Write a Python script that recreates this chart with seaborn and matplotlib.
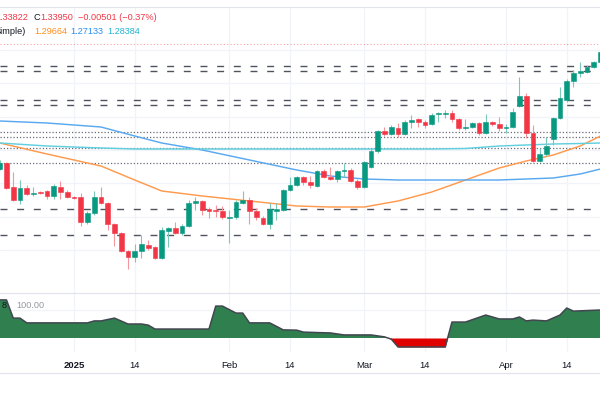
import numpy as np
import pandas as pd
import seaborn as sns
import matplotlib.pyplot as plt

sns.set_theme(style="white")
plt.rcParams['font.family'] = ['Liberation Sans', 'DejaVu Sans']

# daily bars, 17 Dec 2024 .. 21 Apr 2025
dates = pd.bdate_range("2024-12-17", "2025-04-21")

opens = [1.2686, 1.2722, 1.2578, 1.2500, 1.2572, 1.2536, 1.2548, 1.2554, 1.2524, 1.2578,
         1.2548, 1.2518, 1.2518, 1.2368, 1.2422, 1.2518, 1.2482, 1.2356, 1.2302, 1.2194,
         1.2158, 1.2194, 1.2230, 1.2218, 1.2152, 1.2314, 1.2332, 1.2302, 1.2344, 1.2482,
         1.2494, 1.2446, 1.2440, 1.2434, 1.2392, 1.2398, 1.2482, 1.2500, 1.2434, 1.2392,
         1.2356, 1.2434, 1.2440, 1.2560, 1.2590, 1.2638, 1.2608, 1.2584, 1.2674, 1.2638,
         1.2626, 1.2674, 1.2680, 1.2614, 1.2578, 1.2698, 1.2794, 1.2914, 1.2896, 1.2932,
         1.2896, 1.2968, 1.2986, 1.2968, 1.2956, 1.3016, 1.3016, 1.3022, 1.2986, 1.2932,
         1.2938, 1.2962, 1.2902, 1.2968, 1.2956, 1.2932, 1.2938, 1.3064, 1.3124, 1.2902,
         1.2734, 1.2776, 1.2866, 1.2992, 1.3100, 1.3214, 1.3262, 1.3268, 1.3298, 1.3328]
highs = [1.2740, 1.2728, 1.2668, 1.2620, 1.2590, 1.2578, 1.2554, 1.2560, 1.2596, 1.2614,
         1.2560, 1.2524, 1.2542, 1.2434, 1.2554, 1.2578, 1.2488, 1.2362, 1.2308, 1.2200,
         1.2236, 1.2290, 1.2260, 1.2224, 1.2338, 1.2338, 1.2368, 1.2356, 1.2500, 1.2518,
         1.2500, 1.2458, 1.2470, 1.2464, 1.2440, 1.2500, 1.2554, 1.2518, 1.2452, 1.2404,
         1.2482, 1.2482, 1.2566, 1.2638, 1.2644, 1.2644, 1.2644, 1.2680, 1.2686, 1.2698,
         1.2680, 1.2722, 1.2692, 1.2626, 1.2734, 1.2812, 1.2920, 1.2938, 1.2950, 1.2962,
         1.2980, 1.3010, 1.2992, 1.2980, 1.3022, 1.3028, 1.3040, 1.3040, 1.2992, 1.2986,
         1.2968, 1.2968, 1.3016, 1.2974, 1.2998, 1.2956, 1.3052, 1.3238, 1.3142, 1.2950,
         1.2812, 1.2878, 1.2998, 1.3178, 1.3226, 1.3280, 1.3328, 1.3310, 1.3334, 1.3400]
lows = [1.2680, 1.2566, 1.2494, 1.2476, 1.2530, 1.2524, 1.2536, 1.2506, 1.2506, 1.2506,
        1.2512, 1.2506, 1.2344, 1.2356, 1.2410, 1.2476, 1.2320, 1.2224, 1.2188, 1.2086,
        1.2128, 1.2152, 1.2200, 1.2146, 1.2146, 1.2218, 1.2296, 1.2290, 1.2338, 1.2440,
        1.2410, 1.2392, 1.2398, 1.2386, 1.2242, 1.2386, 1.2476, 1.2356, 1.2380, 1.2350,
        1.2326, 1.2380, 1.2434, 1.2554, 1.2584, 1.2590, 1.2572, 1.2578, 1.2632, 1.2620,
        1.2608, 1.2638, 1.2608, 1.2566, 1.2572, 1.2692, 1.2782, 1.2884, 1.2890, 1.2878,
        1.2890, 1.2932, 1.2938, 1.2932, 1.2950, 1.2968, 1.2992, 1.2968, 1.2920, 1.2920,
        1.2932, 1.2890, 1.2896, 1.2944, 1.2914, 1.2902, 1.2932, 1.3058, 1.2872, 1.2728,
        1.2728, 1.2764, 1.2830, 1.2986, 1.3088, 1.3178, 1.3238, 1.3262, 1.3292, 1.3322]
closes = [1.2722, 1.2572, 1.2500, 1.2572, 1.2536, 1.2542, 1.2542, 1.2524, 1.2584, 1.2548,
          1.2518, 1.2512, 1.2368, 1.2422, 1.2518, 1.2482, 1.2356, 1.2302, 1.2194, 1.2158,
          1.2194, 1.2236, 1.2212, 1.2152, 1.2320, 1.2332, 1.2302, 1.2344, 1.2482, 1.2494,
          1.2440, 1.2434, 1.2434, 1.2398, 1.2398, 1.2488, 1.2500, 1.2434, 1.2398, 1.2356,
          1.2446, 1.2446, 1.2560, 1.2590, 1.2638, 1.2608, 1.2590, 1.2674, 1.2638, 1.2626,
          1.2674, 1.2680, 1.2614, 1.2578, 1.2728, 1.2794, 1.2914, 1.2896, 1.2938, 1.2896,
          1.2968, 1.2980, 1.2968, 1.2950, 1.3010, 1.3022, 1.3022, 1.2986, 1.2932, 1.2938,
          1.2962, 1.2902, 1.2968, 1.2956, 1.2932, 1.2938, 1.3028, 1.3124, 1.2902, 1.2734,
          1.2776, 1.2824, 1.2992, 1.3112, 1.3214, 1.3262, 1.3274, 1.3298, 1.3328, 1.3388]

# moving averages read at a few bars
sma_bar = [0, 7, 15, 20, 24, 30, 37, 44, 49, 54, 59, 64, 69, 74, 78, 82, 86, 89]
sma50 = [1.2842, 1.2776, 1.2704, 1.2620, 1.2554, 1.2524, 1.2494, 1.2464, 1.2458, 1.2458,
         1.2494, 1.2548, 1.2620, 1.2692, 1.2734, 1.2770, 1.2824, 1.2884]
sma100 = [1.2974, 1.2962, 1.2938, 1.2884, 1.2842, 1.2800, 1.2740, 1.2680, 1.2644, 1.2626,
          1.2620, 1.2620, 1.2620, 1.2620, 1.2626, 1.2632, 1.2656, 1.2686]
sma200 = [1.2842, 1.2824, 1.2812, 1.2806, 1.2806, 1.2806, 1.2806, 1.2806, 1.2806, 1.2806,
          1.2806, 1.2806, 1.2809, 1.2824, 1.2830, 1.2836, 1.2839, 1.2842]

# support / resistance levels
dashed_levels = [1.3304, 1.3274, 1.3100, 1.3070, 1.2446, 1.2290]
dotted_levels = [1.2908, 1.2878, 1.2812, 1.2722]
price_line = 1.3436

# lower indicator pane
ind_bar = [0, 1, 2, 3, 4, 13, 14, 15, 17, 19, 21, 22, 23, 31, 32, 33, 35, 36, 37, 40, 42, 44,
           45, 49, 51, 55, 57, 58, 59, 66, 67, 69, 72, 74, 76, 77, 78, 79, 81, 83, 84, 85, 89]
ind_val = [136, 136, 71, 71, 54, 54, 61, 61, 71, 50, 50, 46, 32, 32, 114, 114, 89, 89, 54, 54, 29, 28,
           21, 18, 11, 11, 4, -4, -32, -32, 57, 57, 82, 68, 68, 75, 61, 64, 61, 82, 107, 96, 100]

tick_dates = ["2025-01-01", "2025-01-14", "2025-02-03", "2025-02-14",
              "2025-03-03", "2025-03-14", "2025-04-01", "2025-04-14"]
tick_labels = ["2025", "14", "Feb", "14", "Mar", "14", "Apr", "14"]

df = pd.DataFrame({"date": dates, "open": opens, "high": highs, "low": lows, "close": closes})
df["x"] = np.arange(len(df))
up = df["close"] >= df["open"]
body_col = np.where(up, "#089981", "#F23645")
wick_col = np.where(up, "#7cc7b8", "#f5959e")

fig = plt.figure(figsize=(6, 4), dpi=100)
ax = fig.add_axes([0, 107 / 400, 1, 286 / 400])
ax2 = fig.add_axes([0, 48 / 400, 1, 59 / 400], sharex=ax)

tick_pos = [df.index[df["date"] == pd.Timestamp(d)][0] for d in tick_dates]

for a in (ax, ax2):
    for s in a.spines.values():
        s.set_visible(False)
    a.set_xticks(tick_pos)
    a.grid(axis="x", color="#f0f3fa", lw=0.9)
    a.tick_params(length=0)
    a.set_yticklabels([])
ax.set_xlim(0.037, 88.93)
ax.set_ylim(1.1942, 1.3658)
ax.set_yticks(np.arange(1.22, 1.35, 0.02))
ax.grid(axis="y", color="#f0f3fa", lw=0.9)
ax.tick_params(labelbottom=False)

# levels
ax.axhline(price_line, color="#F23645", alpha=0.45, lw=0.8, ls=(0, (1, 2)), zorder=1)
for lv in dashed_levels:
    ax.axhline(lv, color="#50535e", lw=1.0, ls=(0, (5, 7)), zorder=1)
for lv in dotted_levels:
    ax.axhline(lv, color="#6a6d78", lw=0.9, ls=(0, (1, 1.6)), zorder=1)

# moving averages
sns.lineplot(x=sma_bar, y=sma50, ax=ax, color="#FF9A4D", lw=1.05, zorder=2, estimator=None)
sns.lineplot(x=sma_bar, y=sma100, ax=ax, color="#5aa9f0", lw=1.05, zorder=2, estimator=None)
sns.lineplot(x=sma_bar, y=sma200, ax=ax, color="#62cfdf", lw=1.05, zorder=2, estimator=None)

# candles
ax.vlines(df["x"], df["low"], df["high"], colors=wick_col, lw=0.8, zorder=3)
ax.bar(df["x"], (df["close"] - df["open"]).abs(), bottom=np.minimum(df["open"], df["close"]),
       width=0.68, color=body_col, edgecolor=body_col, linewidth=0.4, zorder=4)

# indicator pane
iv = np.array(ind_val, dtype=float)
ax2.set_ylim(-50, 160.7)
ax2.set_yticks([100])
ax2.grid(axis="y", color="#f0f3fa", lw=0.9)
ax2.fill_between(ind_bar, iv, 0, where=iv >= 0, interpolate=True, color="#2f7f4f", lw=0, zorder=2)
ax2.fill_between(ind_bar, iv, 0, where=iv <= 0, interpolate=True, color="#e00000", lw=0, zorder=2)
sns.lineplot(x=ind_bar, y=iv, ax=ax2, color="#434651", lw=1.1, zorder=3, estimator=None)
ax2.set_xticklabels(tick_labels, fontsize=6.8, color="#131722")
ax2.tick_params(axis="x", pad=6.5)
for lab in ax2.get_xticklabels():
    if lab.get_text() == "2025":
        lab.set_fontweight("bold")
ax2.set_xlabel("")
ax2.set_ylabel("")
ax.set_xlabel("")
ax.set_ylabel("")

# frame lines
for py in (7, 293, 373):
    fig.add_artist(plt.Line2D([0, 1], [1 - py / 400, 1 - py / 400], color="#e0e3eb", lw=0.8))

# header texts
def put(px, py, s, color, ha="left", **kw):
    fig.text(px / 600, 1 - py / 400, s, color=color, ha=ha, va="center", fontsize=6.6, **kw)

put(28, 18, "1.33822", "#F23645", ha="right")
put(33, 18, "C", "#131722")
put(40, 18, "1.33950", "#F23645")
put(78, 18, "\u22120.00501 (\u22120.37%)", "#F23645")
put(26, 32, "Simple)", "#131722", ha="right")
put(34, 32, "1.29664", "#FF8C1A")
put(70, 32, "1.27133", "#2a8ef0")
put(107, 32, "1.28384", "#1fb5cf")
put(7, 305, "8", "#131722", ha="right")
put(16, 305, "100.00", "#9598a1")

fig.savefig("out.png", dpi=100)
